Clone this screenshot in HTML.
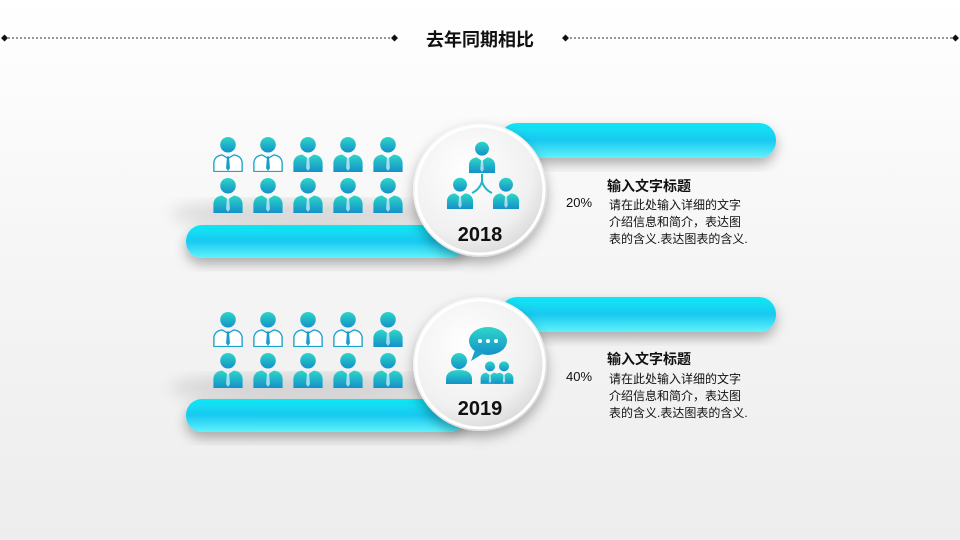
<!DOCTYPE html>
<html><head><meta charset="utf-8"><style>
body{margin:0;width:960px;height:540px;overflow:hidden;background:linear-gradient(180deg,#ffffff 0%,#f4f4f4 55%,#ededed 100%);font-family:"Liberation Sans","Noto Sans CJK SC",sans-serif;position:relative}
.t{position:absolute;color:#111}
</style></head><body>
<svg width="960" height="540" style="position:absolute;left:0;top:0">
<defs>
<linearGradient id="pg" x1="0" y1="0" x2="0" y2="1"><stop offset="0" stop-color="#2ed6c8"/><stop offset="1" stop-color="#1391c9"/></linearGradient>
<linearGradient id="bar" x1="0" y1="0" x2="0" y2="1"><stop offset="0" stop-color="#0ee8f5"/><stop offset="0.5" stop-color="#1ac9f0"/><stop offset="1" stop-color="#5ff2fb"/></linearGradient>
<radialGradient id="cg" cx="0.4" cy="0.35" r="0.7"><stop offset="0" stop-color="#ffffff"/><stop offset="0.7" stop-color="#f0f0f0"/><stop offset="1" stop-color="#d6d6d6"/></radialGradient>
<filter id="sh" x="-30%" y="-30%" width="160%" height="170%"><feDropShadow dx="0" dy="6" stdDeviation="6" flood-color="#000" flood-opacity="0.3"/></filter>
<filter id="bl"><feGaussianBlur stdDeviation="8"/></filter>
<symbol id="p" viewBox="0 0 32 38"><circle cx="16" cy="10" r="8" fill="url(#pg)"/><path d="M1 38 L1 28 Q2 21 10 20 L16 24 L22 20 Q30 21 31 28 L31 38Z" fill="url(#pg)"/><path d="M15 22 L17 22 L18 34 L16 37 L14 34Z" fill="#fff" opacity="0.6"/></symbol>
<symbol id="po" viewBox="0 0 32 38"><circle cx="16" cy="10" r="8" fill="url(#pg)"/><path d="M1.5 37.5 L1.5 28 Q2.5 21.5 10 20.5 L16 24 L22 20.5 Q29.5 21.5 30.5 28 L30.5 37.5Z" fill="#fff" stroke="#1aa5cc" stroke-width="1.4"/><path d="M15 22 L17 22 L18 34 L16 37 L14 34Z" fill="#1a9fcc"/></symbol>
</defs>
<line x1="4" y1="38" x2="394" y2="38" stroke="#333" stroke-dasharray="2,2" stroke-width="1"/>
<line x1="566" y1="38" x2="956" y2="38" stroke="#333" stroke-dasharray="2,2" stroke-width="1"/>
<path d="M1 38 l3.5 -3.5 l3.5 3.5 l-3.5 3.5z M391 38 l3.5 -3.5 l3.5 3.5 l-3.5 3.5z M562 38 l3.5 -3.5 l3.5 3.5 l-3.5 3.5z M952 38 l3.5 -3.5 l3.5 3.5 l-3.5 3.5z" fill="#111"/>
<g id="blk">
<ellipse cx="310" cy="214" rx="140" ry="14" fill="#000" opacity="0.12" filter="url(#bl)"/>
<rect x="500" y="123" width="276" height="35" rx="17" fill="url(#bar)" filter="url(#sh)"/>
<rect x="186" y="225" width="280" height="33" rx="16" fill="url(#bar)" filter="url(#sh)"/>
<circle cx="480" cy="190" r="67" fill="url(#cg)" filter="url(#sh)"/>
<circle cx="480" cy="190" r="64" fill="none" stroke="#fff" stroke-width="3"/>
</g>
<use href="#blk" y="174"/>
<g>
<use href="#po" x="212" y="135" width="32" height="37"/><use href="#po" x="252" y="135" width="32" height="37"/><use href="#p" x="292" y="135" width="32" height="37"/><use href="#p" x="332" y="135" width="32" height="37"/><use href="#p" x="372" y="135" width="32" height="37"/>
<use href="#p" x="212" y="176" width="32" height="37"/><use href="#p" x="252" y="176" width="32" height="37"/><use href="#p" x="292" y="176" width="32" height="37"/><use href="#p" x="332" y="176" width="32" height="37"/><use href="#p" x="372" y="176" width="32" height="37"/>
<use href="#po" x="212" y="310" width="32" height="37"/><use href="#po" x="252" y="310" width="32" height="37"/><use href="#po" x="292" y="310" width="32" height="37"/><use href="#po" x="332" y="310" width="32" height="37"/><use href="#p" x="372" y="310" width="32" height="37"/>
<use href="#p" x="212" y="351" width="32" height="37"/><use href="#p" x="252" y="351" width="32" height="37"/><use href="#p" x="292" y="351" width="32" height="37"/><use href="#p" x="332" y="351" width="32" height="37"/><use href="#p" x="372" y="351" width="32" height="37"/>
</g>
<use href="#p" x="468" y="140" width="28" height="33"/>
<use href="#p" x="446" y="176" width="28" height="33"/>
<use href="#p" x="492" y="176" width="28" height="33"/>
<path d="M482 174 L482 182 M482 182 Q479 190 472 193 M482 182 Q485 190 492 193" stroke="#1fb5cc" stroke-width="2" fill="none"/>
<ellipse cx="488" cy="341" rx="19" ry="14" fill="url(#pg)"/>
<path d="M475 350 L471 361 L484 353Z" fill="#1aa3c9"/>
<circle cx="480" cy="341" r="2" fill="#fff"/><circle cx="488" cy="341" r="2" fill="#fff"/><circle cx="496" cy="341" r="2" fill="#fff"/>
<circle cx="459" cy="361" r="8" fill="url(#pg)"/><path d="M446 384 L446 378 Q447 370 459 370 Q471 370 472 378 L472 384Z" fill="url(#pg)"/>
<use href="#p" x="480" y="360" width="20" height="24"/><use href="#p" x="494" y="360" width="20" height="24"/>
</svg>
<div class="t" style="left:0;width:960px;top:26px;text-align:center;font-size:18px;font-weight:bold">去年同期相比</div>
<div class="t" style="left:440px;width:80px;top:224px;text-align:center;font-size:20px;font-weight:bold">2018</div>
<div class="t" style="left:440px;width:80px;top:398px;text-align:center;font-size:20px;font-weight:bold">2019</div>
<div class="t" style="left:607px;top:176px;font-size:14px;font-weight:bold">输入文字标题</div>
<div class="t" style="left:566px;top:195px;font-size:13px">20%</div>
<div class="t" style="left:609px;top:197px;font-size:12px;line-height:17px;width:170px">请在此处输入详细的文字<br>介绍信息和简介，表达图<br>表的含义.表达图表的含义.</div>
<div class="t" style="left:607px;top:349px;font-size:14px;font-weight:bold">输入文字标题</div>
<div class="t" style="left:566px;top:369px;font-size:13px">40%</div>
<div class="t" style="left:609px;top:371px;font-size:12px;line-height:17px;width:170px">请在此处输入详细的文字<br>介绍信息和简介，表达图<br>表的含义.表达图表的含义.</div>
</body></html>
